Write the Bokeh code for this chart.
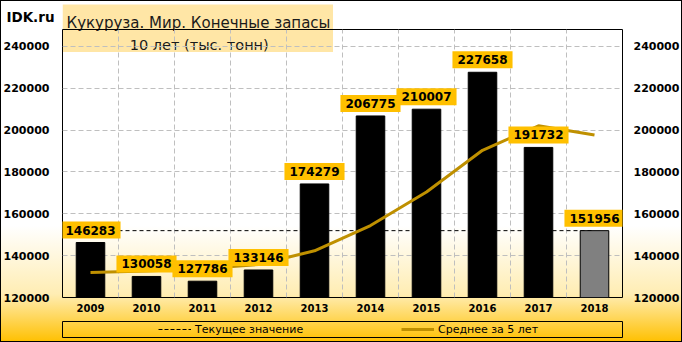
import numpy as np
from bokeh.plotting import figure
from bokeh.models import (Range1d, LinearAxis, FixedTicker, BasicTickFormatter,
                          Label, Legend, LegendItem, BoxAnnotation)
from bokeh.layouts import column
from bokeh.embed import file_html
from bokeh.resources import INLINE
from bokeh.core.properties import value

# ---------------- data ----------------
years = ["2009", "2010", "2011", "2012", "2013", "2014", "2015", "2016", "2017", "2018"]
stocks = [146283, 130058, 127786, 133146, 174279, 206775, 210007, 227658, 191732, 151956]
avg5 = [131900, 132700, 133700, 135800, 142310, 154409, 170399, 190373, 202090, 197626]
current_value = 151956
y_ticks = [120000, 140000, 160000, 180000, 200000, 220000, 240000]

title_text = "Кукуруза. Мир. Конечные запасы"
subtitle_text = "10 лет (тыс. тонн)"
brand_text = "IDK.ru"
legend_labels = ["Текущее значение", "Среднее за 5 лет"]

# ---------------- styling ----------------
FONT = "DejaVu Sans"
GOLD = "#BF9000"
LABEL_BG = "#FFC000"
HEADER_H = 52
FRAME_L, FRAME_R = 61, 622      # plot frame edges in page pixels (shared by all strips)
n = len(years)
xs = list(np.arange(n) + 0.5)
bar_colors = ["#808080" if i == n - 1 else "black" for i in range(n)]

# ---------------- header (drawn behind the chart) ----------------
hdr = figure(width=682, height=HEADER_H, x_range=Range1d(FRAME_L, FRAME_R),
             y_range=Range1d(HEADER_H, 0),
             output_backend="svg", toolbar_location=None,
             x_axis_location=None, y_axis_location="left",
             min_border_left=FRAME_L, min_border_right=682 - FRAME_R,
             min_border_top=0, min_border_bottom=0)
hdr.grid.visible = False
hdr.outline_line_color = None
hdr.background_fill_alpha = 0
hdr.border_fill_alpha = 0
ya = hdr.yaxis[0]
ya.ticker = FixedTicker(ticks=[16])
ya.major_label_overrides = {16: brand_text}
ya.axis_line_color = None
ya.major_tick_line_color = None
ya.minor_tick_line_color = None
ya.major_tick_out = 0
ya.major_tick_in = 0
ya.major_label_standoff = 8
ya.major_label_text_font = FONT
ya.major_label_text_font_style = "bold"
ya.major_label_text_font_size = "13.5px"
ya.major_label_text_color = "black"

hdr.add_layout(BoxAnnotation(left=FRAME_L, right=332, top=4, bottom=HEADER_H,
                             fill_color="#FFE6A6", fill_alpha=1, line_alpha=0, level="underlay"))
hdr.add_layout(Label(x=65, y=22, text=title_text, text_font=FONT, text_font_size="15px",
                     text_color="#1a1a1a", text_align="left", text_baseline="alphabetic"))
hdr.add_layout(Label(x=198, y=44, text=subtitle_text, text_font=FONT, text_font_size="14.5px",
                     text_color="#1a1a1a", text_align="center", text_baseline="alphabetic"))

# ---------------- main chart ----------------
p = figure(width=682, height=317, x_range=Range1d(0, n), y_range=Range1d(120000, 248100),
           output_backend="svg", toolbar_location=None,
           min_border_left=FRAME_L, min_border_right=682 - FRAME_R,
           min_border_top=29, min_border_bottom=20,
           styles={"margin-top": f"-{HEADER_H}px"})
p.background_fill_alpha = 0
p.border_fill_alpha = 0
p.outline_line_color = "black"
p.outline_line_width = 1
p.outline_line_alpha = 1

p.add_layout(LinearAxis(), "right")

for ax in p.yaxis:
    ax.ticker = FixedTicker(ticks=y_ticks)
    ax.formatter = BasicTickFormatter(use_scientific=False)
for ax in p.axis:
    ax.axis_line_color = None
    ax.major_tick_line_color = None
    ax.minor_tick_line_color = None
    ax.major_tick_out = 0
    ax.major_tick_in = 0
    ax.major_label_text_font = FONT
    ax.major_label_text_font_style = "bold"
    ax.major_label_text_color = "black"
    ax.major_label_text_font_size = "11px"
p.yaxis[0].major_label_standoff = 13
p.yaxis[1].major_label_standoff = 11

p.xaxis.ticker = FixedTicker(ticks=xs)
p.xaxis.major_label_overrides = {x: y for x, y in zip(xs, years)}
p.xaxis.major_label_text_font_size = "10px"
p.xaxis.major_label_standoff = 6

p.xgrid.ticker = FixedTicker(ticks=list(range(1, n)))
p.ygrid.ticker = FixedTicker(ticks=y_ticks[1:])
for g in p.grid:
    g.grid_line_color = "#BFBFBF"
    g.grid_line_dash = "5 3"
    g.grid_line_width = 1

# current value dashed line
p.line(x=[0, xs[-1]], y=[current_value, current_value], line_color="black",
       line_dash="4 3", line_width=1)
# bars
p.vbar(x=xs, top=stocks, bottom=120000, width=0.51, fill_color=bar_colors,
       line_color="black", line_width=1)
# 5-year average
p.line(x=xs, y=avg5, line_color=GOLD, line_width=3)
# value labels
p.text(x=xs, y=stocks, text=[str(v) for v in stocks], anchor="bottom_center",
       y_offset=-4, text_font=value(FONT), text_font_style="bold",
       text_font_size="12px", text_color="black",
       background_fill_color=LABEL_BG,
       padding=dict(left=5, right=5, top=4, bottom=4))

# ---------------- legend strip ----------------
leg = figure(width=682, height=25, x_range=Range1d(0, n), y_range=Range1d(0, 1),
             output_backend="svg", toolbar_location=None,
             x_axis_location=None, y_axis_location=None,
             min_border_left=FRAME_L, min_border_right=682 - FRAME_R,
             min_border_top=4, min_border_bottom=5)
leg.grid.visible = False
leg.background_fill_alpha = 0
leg.border_fill_alpha = 0
leg.outline_line_color = "black"
leg.outline_line_width = 1
# same series as in the chart; outside this strip's visible y range, used only for legend glyphs
r1 = leg.line(x=[0, xs[-1]], y=[current_value, current_value], line_color="black",
              line_dash="4 2", line_width=1)
r2 = leg.line(x=xs, y=avg5, line_color=GOLD, line_width=3)
legend = Legend(items=[LegendItem(label=legend_labels[0], renderers=[r1]),
                       LegendItem(label=legend_labels[1], renderers=[r2])],
                orientation="horizontal", location=(96, 0),
                glyph_width=33, glyph_height=16, label_height=16, label_width=200,
                label_standoff=4, spacing=6, padding=0, margin=0,
                border_line_alpha=0, background_fill_alpha=0,
                label_text_font=FONT, label_text_font_size="11px",
                label_text_color="black")
leg.add_layout(legend)

layout = column(hdr, p, leg, styles={
    "background": "linear-gradient(to bottom, #FFFFFF 0%, #FFFFFF 66%, #FFEDB3 86%, #FFC000 100%)",
    "outline": "1px solid black",
    "outline-offset": "-1px",
})

open("out.html", "w").write(file_html(layout, INLINE))
